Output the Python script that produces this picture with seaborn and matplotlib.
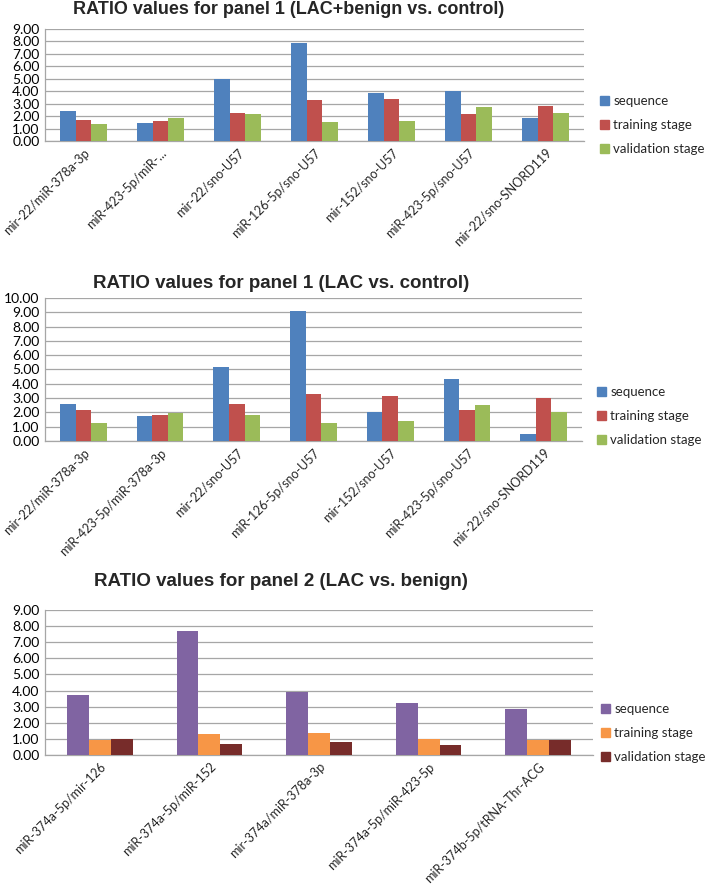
import matplotlib
matplotlib.use("Agg")
import matplotlib.pyplot as plt
import matplotlib.patches as mpatches
import seaborn as sns
import pandas as pd
from matplotlib.ticker import FormatStrFormatter, MultipleLocator

# ---------------- data ----------------
series_names = ["sequence", "training stage", "validation stage"]

p1_categories = ["mir-22/miR-378a-3p", "miR-423-5p/miR-...", "mir-22/sno-U57",
                 "miR-126-5p/sno-U57", "mir-152/sno-U57", "miR-423-5p/sno-U57",
                 "mir-22/sno-SNORD119"]
p1_sequence = [2.41, 1.46, 5.00, 7.90, 3.85, 4.00, 1.88]
p1_training = [1.70, 1.62, 2.25, 3.32, 3.40, 2.20, 2.84]
p1_validation = [1.35, 1.88, 2.20, 1.56, 1.62, 2.70, 2.23]

p2_categories = ["mir-22/miR-378a-3p", "miR-423-5p/miR-378a-3p", "mir-22/sno-U57",
                 "miR-126-5p/sno-U57", "mir-152/sno-U57", "miR-423-5p/sno-U57",
                 "mir-22/sno-SNORD119"]
p2_sequence = [2.60, 1.77, 5.18, 9.06, 2.00, 4.35, 0.51]
p2_training = [2.20, 1.82, 2.57, 3.30, 3.18, 2.20, 3.00]
p2_validation = [1.28, 1.93, 1.84, 1.26, 1.38, 2.52, 2.03]

p3_categories = ["miR-374a-5p/mir-126", "miR-374a-5p/miR-152", "mir-374a/miR-378a-3p",
                 "miR-374a-5p/miR-423-5p", "miR-374b-5p/tRNA-Thr-ACG"]
p3_sequence = [3.72, 7.70, 3.89, 3.23, 2.88]
p3_training = [0.92, 1.33, 1.38, 0.98, 0.92]
p3_validation = [0.97, 0.68, 0.80, 0.62, 0.92]

titles = ["RATIO values for panel 1 (LAC+benign vs. control)",
          "RATIO values for panel 1 (LAC vs. control)",
          "RATIO values for panel 2 (LAC vs. benign)"]

# ---------------- style ----------------
sns.set_theme(style="white")
plt.rcParams["font.family"] = ["Lato", "DejaVu Sans"]

W, H = 709, 888
fig = plt.figure(figsize=(W / 100, H / 100), dpi=100)

def frac_rect(l, r, t, b):
    return [l / W, 1 - b / H, (r - l) / W, (b - t) / H]

panels = [
    dict(cats=p1_categories, vals=[p1_sequence, p1_training, p1_validation],
         colors=["#4F81BD", "#C0504D", "#9BBB59"], ymax=9,
         rect=frac_rect(45, 584, 29, 141), title_xy=(289, 10), title_size=13,
         leg_xy=(600, 125), width=0.61),
    dict(cats=p2_categories, vals=[p2_sequence, p2_training, p2_validation],
         colors=["#4F81BD", "#C0504D", "#9BBB59"], ymax=10,
         rect=frac_rect(45, 582, 298, 441), title_xy=(281, 283), title_size=13.5,
         leg_xy=(597, 416), width=0.61),
    dict(cats=p3_categories, vals=[p3_sequence, p3_training, p3_validation],
         colors=["#8064A2", "#F79646", "#772C2A"], ymax=9,
         rect=frac_rect(45, 593, 610, 755), title_xy=(281, 582), title_size=13.5,
         leg_xy=(601, 733), width=0.60),
]

for i, p in enumerate(panels):
    rows = []
    for s, vals in zip(series_names, p["vals"]):
        for c, v in zip(p["cats"], vals):
            rows.append({"category": c, "series": s, "value": v})
    df = pd.DataFrame(rows)
    ax = fig.add_axes(p["rect"])
    sns.barplot(data=df, x="category", y="value", hue="series",
                order=p["cats"], hue_order=series_names,
                palette=p["colors"], width=p["width"], gap=0,
                saturation=1, errorbar=None, ax=ax, zorder=3, linewidth=0)
    ax.set_ylim(0, p["ymax"])
    ax.set_xlim(-0.5, len(p["cats"]) - 0.5)
    ax.yaxis.set_major_locator(MultipleLocator(1))
    ax.yaxis.set_major_formatter(FormatStrFormatter("%.2f"))
    ax.grid(axis="y", color="#A6A6A6", linewidth=0.9, zorder=0)
    ax.set_axisbelow(True)
    ax.set_xlabel("")
    ax.set_ylabel("")
    for side in ["top", "right"]:
        ax.spines[side].set_visible(False)
    for side in ["left", "bottom"]:
        ax.spines[side].set_color("#A6A6A6")
        ax.spines[side].set_linewidth(0.9)
    ax.tick_params(axis="y", labelsize=10, length=0, pad=4, colors="#000000")
    ax.tick_params(axis="x", labelsize=9, length=0, pad=4)
    for lab in ax.get_xticklabels():
        lab.set_rotation(45)
        lab.set_ha("right")
        lab.set_rotation_mode("anchor")
    if ax.get_legend() is not None:
        ax.get_legend().remove()
    handles = [mpatches.Patch(color=c, label=s) for c, s in zip(p["colors"], series_names)]
    fig.legend(handles=handles, loc="center left",
               bbox_to_anchor=(p["leg_xy"][0] / W, 1 - p["leg_xy"][1] / H),
               frameon=False, fontsize=9.5, handlelength=0.7, handleheight=0.7,
               handletextpad=0.3, labelspacing=0.9, borderaxespad=0, borderpad=0)
    fig.text(p["title_xy"][0] / W, 1 - p["title_xy"][1] / H, titles[i],
             ha="center", va="center", fontsize=p["title_size"], fontweight="bold",
             family=["Liberation Sans", "DejaVu Sans"])

fig.savefig("out.png", dpi=100, facecolor="white")
